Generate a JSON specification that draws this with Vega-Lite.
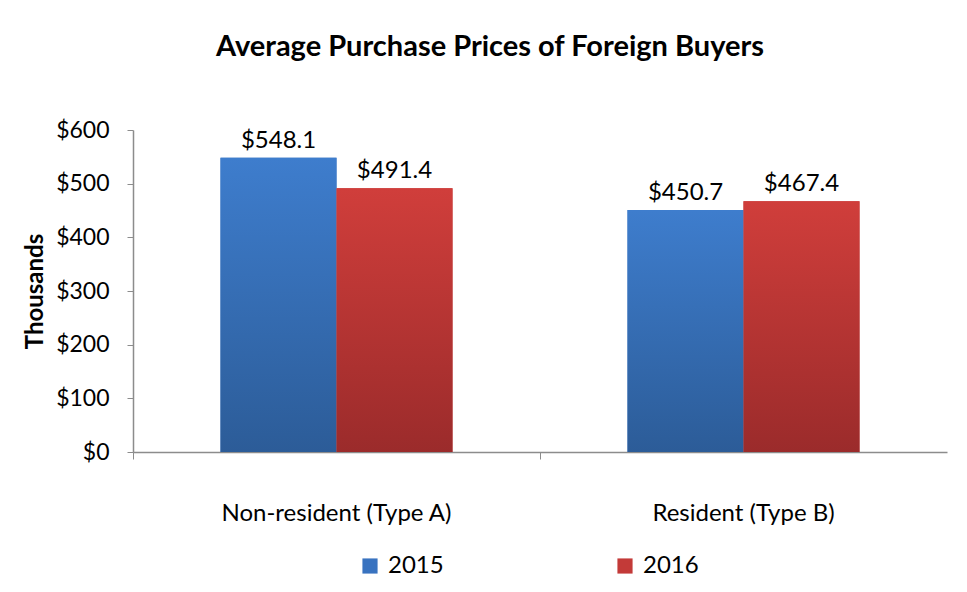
{
  "$schema": "https://vega.github.io/schema/vega-lite/v6.json",
  "autosize": "none",
  "width": 814,
  "height": 322,
  "padding": {"left": 133, "top": 130, "right": 20, "bottom": 140},
  "background": "white",
  "title": {
    "text": "Average Purchase Prices of Foreign Buyers",
    "fontSize": 29,
    "fontWeight": "bold",
    "font": "Lato",
    "color": "black",
    "anchor": "middle",
    "dx": -50,
    "offset": 57
  },
  "config": {
    "view": {"stroke": null},
    "font": "Lato",
    "axis": {"labelFont": "Lato", "labelColor": "black", "domainColor": "#8c8c8c", "tickColor": "#8c8c8c", "grid": false},
    "legend": {"labelFont": "Lato"}
  },
  "data": {
    "values": [
      {"type": "Non-resident (Type A)", "year": "2015", "price": 548.1},
      {"type": "Non-resident (Type A)", "year": "2016", "price": 491.4},
      {"type": "Resident (Type B)", "year": "2015", "price": 450.7},
      {"type": "Resident (Type B)", "year": "2016", "price": 467.4}
    ]
  },
  "encoding": {
    "x": {
      "field": "type",
      "type": "nominal",
      "sort": null,
      "scale": {"paddingInner": 0.43, "paddingOuter": 0.215},
      "axis": {"title": null, "labelAngle": 0, "labelFontSize": 24, "labelLimit": 0, "tickSize": 7, "bandPosition": -0.375, "labelPadding": 42, "domainWidth": 1.5}
    },
    "xOffset": {"field": "year", "type": "nominal", "scale": {"paddingInner": 0, "paddingOuter": 0}},
    "y": {
      "field": "price",
      "type": "quantitative",
      "scale": {"domain": [0, 600], "nice": false},
      "axis": {"title": "Thousands", "titleFontSize": 24, "titleFont": "Lato", "titleFontWeight": "bold", "titleColor": "black", "titlePadding": 8, "values": [0, 100, 200, 300, 400, 500, 600], "format": "$d", "labelFontSize": 23, "tickSize": 6, "labelPadding": 18, "domainWidth": 1.5}
    }
  },
  "layer": [
    {
      "mark": {"type": "bar"},
      "encoding": {
        "color": {
          "field": "year",
          "type": "nominal",
          "scale": {"domain": ["2015", "2016"], "range": ["#3973c0", "#c33a38"]},
          "legend": {"title": null, "orient": "none", "legendX": 225, "legendY": 424, "direction": "horizontal", "labelFontSize": 24, "labelColor": "black", "symbolType": "square", "symbolSize": 230, "symbolStrokeWidth": 0, "columnPadding": 169, "labelOffset": 6}
        }
      }
    },
    {
      "mark": {"type": "bar"},
      "encoding": {
        "fill": {
          "condition": {
            "test": "datum.year == '2015'",
            "value": {"gradient": "linear", "x1": 0, "y1": 0, "x2": 0, "y2": 1, "stops": [{"offset": 0, "color": "#3e7dcd"}, {"offset": 1, "color": "#2c5c98"}]}
          },
          "value": {"gradient": "linear", "x1": 0, "y1": 0, "x2": 0, "y2": 1, "stops": [{"offset": 0, "color": "#d03e3b"}, {"offset": 1, "color": "#9b2b2b"}]}
        }
      }
    },
    {
      "mark": {"type": "text", "dy": -17, "fontSize": 24, "color": "black"},
      "encoding": {
        "text": {"field": "price", "type": "quantitative", "format": "$.1f"}
      }
    }
  ]
}
